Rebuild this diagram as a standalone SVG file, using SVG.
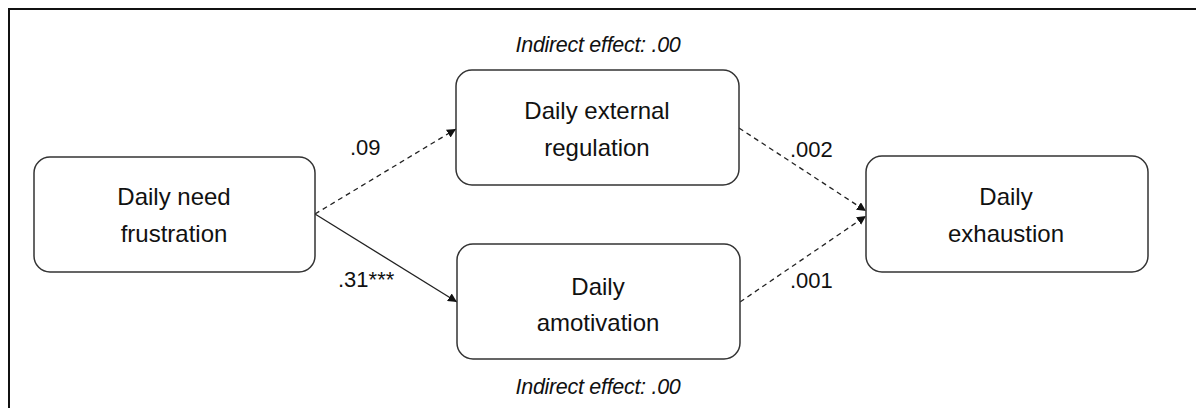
<svg xmlns="http://www.w3.org/2000/svg" width="1196" height="408" viewBox="0 0 1196 408">
<defs>
<marker id="arr" viewBox="0 0 10 10" refX="10" refY="5" markerWidth="9" markerHeight="9" markerUnits="userSpaceOnUse" orient="auto">
<path d="M0,0 L10,5 L0,10 z" fill="#111"/>
</marker>
<style>
.node{fill:#fff;stroke:#333;stroke-width:1.5}
.lbl{font-family:"Liberation Sans",Arial,sans-serif;font-size:24px;fill:#111;text-anchor:middle}
.num{font-family:"Liberation Sans",Arial,sans-serif;font-size:22px;fill:#111}
.ital{font-family:"Liberation Sans",Arial,sans-serif;font-size:21.5px;font-style:italic;fill:#111;text-anchor:middle;letter-spacing:-0.3px}
.edge{fill:none;stroke:#222;stroke-width:1.3}
.dash{stroke-dasharray:5,4}
</style>
</defs>
<rect width="1196" height="408" fill="#fff"/>
<path d="M9,408 V9 H1196" fill="none" stroke="#111" stroke-width="2"/>
<g id="connectors">
<line class="edge dash" x1="315" y1="214" x2="456" y2="129" marker-end="url(#arr)"/>
<line class="edge" x1="315" y1="214" x2="457" y2="302" marker-end="url(#arr)"/>
<line class="edge dash" x1="739" y1="128" x2="866" y2="211" marker-end="url(#arr)"/>
<line class="edge dash" x1="740" y1="302" x2="866" y2="216" marker-end="url(#arr)"/>
<text class="num" x="350" y="155">.09</text>
<text class="num" x="338" y="287">.31***</text>
<text class="num" x="790" y="157">.002</text>
<text class="num" x="790" y="288">.001</text>
</g>
<g id="need">
<rect class="node" x="34" y="157" width="281" height="115" rx="16"/>
<text class="lbl" x="174" y="205">Daily need</text>
<text class="lbl" x="174" y="242">frustration</text>
</g>
<g id="external">
<rect class="node" x="456" y="70" width="283" height="115" rx="16"/>
<text class="lbl" x="597" y="119">Daily external</text>
<text class="lbl" x="597" y="156">regulation</text>
<text class="ital" x="598" y="52">Indirect effect: .00</text>
</g>
<g id="amotivation">
<rect class="node" x="457" y="244" width="283" height="115" rx="16"/>
<text class="lbl" x="598" y="295">Daily</text>
<text class="lbl" x="598" y="331">amotivation</text>
<text class="ital" x="598" y="394">Indirect effect: .00</text>
</g>
<g id="exhaustion">
<rect class="node" x="866" y="156" width="282" height="116" rx="16"/>
<text class="lbl" x="1006" y="205">Daily</text>
<text class="lbl" x="1006" y="242">exhaustion</text>
</g>
</svg>
